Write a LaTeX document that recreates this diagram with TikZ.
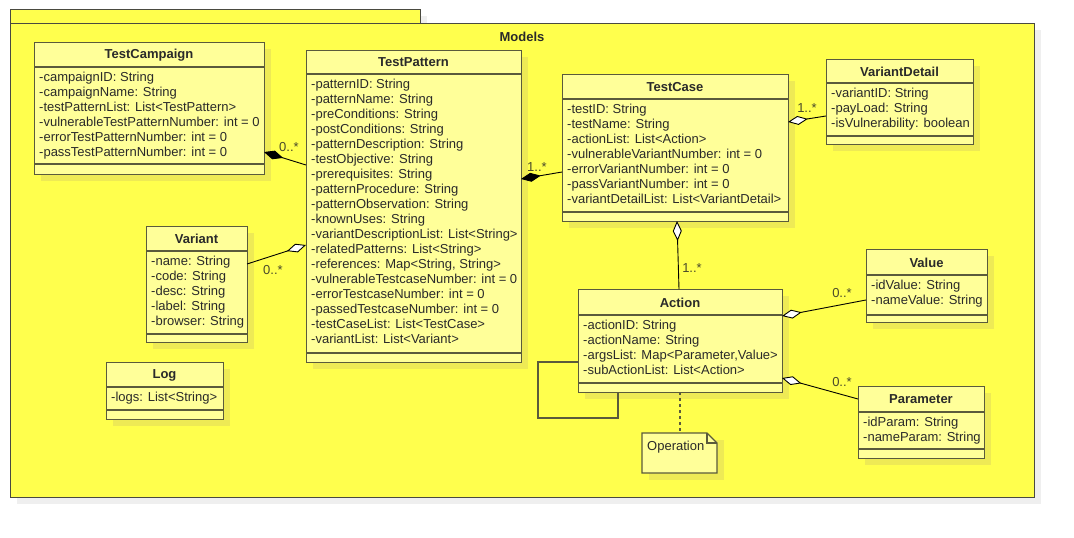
\documentclass[tikz,border=0pt]{standalone}
\usepackage{fontspec}
\setmainfont{Liberation Sans}
\usetikzlibrary{arrows.meta}
\definecolor{pkgfill}{HTML}{FFFF4D}
\definecolor{clsfill}{HTML}{FFFF99}
\definecolor{clsshadow}{HTML}{EEEA55}
\definecolor{pkgshadow}{HTML}{EFEFEF}
\definecolor{bordercol}{HTML}{5A5A3C}
\definecolor{pkgborder}{HTML}{4A4A40}
\definecolor{txt}{HTML}{2A2A2A}
\definecolor{lbl}{HTML}{4A4A2A}
\tikzset{
  clsbox/.style={draw=bordercol, fill=clsfill, line width=1.2pt, inner sep=0pt},
  clsline/.style={draw=bordercol, line width=1.2pt},
  clstitle/.style={font=\fontsize{13}{15}\selectfont\bfseries, text=txt, inner sep=0pt},
  attr/.style={anchor=west, inner sep=0pt, text height=9.5pt, text depth=3pt, font=\fontsize{13}{15}\selectfont, text=txt},
  mult/.style={inner sep=0pt, font=\fontsize{13}{15}\selectfont, text=lbl},
  assoc/.style={draw=black, line width=0.9pt},
  odiam/.style={assoc, {Diamond[length=20pt,width=9pt,fill=white,line width=0.9pt]}-},
  fdiam/.style={assoc, {Diamond[length=20pt,width=9pt,fill=black,line width=0.9pt]}-},
}
\newcommand{\umlcls}[9]{%
  \fill[clsshadow] (#2+7,#3+7) rectangle (#4+7,#7+7);
  \node[clsbox, anchor=north west, minimum width=#4-#2, minimum height=#7-#3] (#1) at (#2,#3) {};
  \draw[clsline] (#2,#5) -- (#4,#5);
  \draw[clsline] (#2,#6) -- (#4,#6);
  \node[clstitle] (#1-t) at ({(#2+#4)/2},{(#3+#5)/2+0.5}) {#8};
  \foreach \a [count=\i] in {#9} \node[attr] (#1-a\i) at (#2+5,{#5+11.5+15*(\i-1)}) {\a};
}
\begin{document}
\begin{tikzpicture}[x=1pt,y=-1pt]
\useasboundingbox (0,0) rectangle (1074,538);
% package
\fill[pkgshadow] (17,16) rectangle (427,30);
\fill[pkgshadow] (17,30) rectangle (1041,504);
\node[draw=pkgborder, fill=pkgfill, line width=1.2pt, anchor=north west, minimum width=410, minimum height=14, inner sep=0pt] (pkgtab) at (10,9) {};
\node[draw=pkgborder, fill=pkgfill, line width=1.2pt, anchor=north west, minimum width=1024, minimum height=474, inner sep=0pt] (pkg) at (10,23) {};
\node[clstitle] (pkgname) at (522,37) {Models};

\umlcls{tcamp}{34}{42}{264}{67}{164}{174}{TestCampaign}{-campaignID: String,-campaignName: String,-testPatternList: List<TestPattern>,-vulnerableTestPatternNumber: int = 0,-errorTestPatternNumber: int = 0,-passTestPatternNumber: int = 0}

\umlcls{tpat}{306}{50}{521}{74}{353}{362}{TestPattern}{-patternID: String,-patternName: String,-preConditions: String,-postConditions: String,-patternDescription: String,-testObjective: String,-prerequisites: String,-patternProcedure: String,-patternObservation: String,-knownUses: String,-variantDescriptionList: List<String>,-relatedPatterns: List<String>,{-references: Map<String, String>},-vulnerableTestcaseNumber: int = 0,-errorTestcaseNumber: int = 0,-passedTestcaseNumber: int = 0,-testCaseList: List<TestCase>,-variantList: List<Variant>}

\umlcls{tcase}{562}{74}{788}{99}{212}{221}{TestCase}{-testID: String,-testName: String,-actionList: List<Action>,-vulnerableVariantNumber: int = 0,-errorVariantNumber: int = 0,-passVariantNumber: int = 0,-variantDetailList: List<VariantDetail>}

\umlcls{vdet}{826}{59}{973}{83}{136}{144}{VariantDetail}{-variantID: String,-payLoad: String,-isVulnerability: boolean}

\umlcls{var}{146}{226}{247}{251}{334}{342}{Variant}{-name: String,-code: String,-desc: String,-label: String,-browser: String}

\umlcls{log}{106}{362}{223}{387}{410}{419}{Log}{-logs: List<String>}

\umlcls{act}{578}{289}{782}{315}{383}{392}{Action}{-actionID: String,-actionName: String,{-argsList: Map<Parameter,Value>},-subActionList: List<Action>}

\umlcls{val}{866}{249}{987}{275}{315}{322}{Value}{-idValue: String,-nameValue: String}

\umlcls{par}{858}{386}{984}{412}{449}{458}{Parameter}{-idParam: String,-nameParam: String}

% connector end points
\coordinate (c1a) at (264,152); \coordinate (c1b) at (306,165);
\coordinate (c2a) at (306,245); \coordinate (c2b) at (247,264);
\coordinate (c3a) at (521,179); \coordinate (c3b) at (562,172);
\coordinate (c4a) at (788,122); \coordinate (c4b) at (826,116);
\coordinate (c5a) at (677,221); \coordinate (c5b) at (679,289);
\coordinate (c6a) at (782,316); \coordinate (c6b) at (866,300);
\coordinate (c7a) at (782,378); \coordinate (c7b) at (858,399);

\draw[fdiam] (c1a) -- (c1b);
\draw[odiam] (c2a) -- (c2b);
\draw[fdiam] (c3a) -- (c3b);
\draw[odiam] (c4a) -- (c4b);
\draw[odiam] (c5a) -- (c5b);
\draw[odiam] (c6a) -- (c6b);
\draw[odiam] (c7a) -- (c7b);

\node[mult] (m1) at (289,147) {0..*};
\node[mult] (m2) at (273,270) {0..*};
\node[mult] (m3) at (537,167) {1..*};
\node[mult] (m4) at (807,108) {1..*};
\node[mult] (m5) at (692,268) {1..*};
\node[mult] (m6) at (842,293) {0..*};
\node[mult] (m7) at (842,382) {0..*};

% self loop on Action
\coordinate (l1) at (578,362); \coordinate (l2) at (618,392);
\draw[clsline, line width=1.1pt] (l1) -- (538,362) -- (538,418) -- (618,418) -- (l2);

% note
\coordinate (n0) at (680,392);
\fill[clsshadow] (649,440) -- (724,440) -- (724,480) -- (649,480) -- cycle;
\draw[clsline, fill=clsfill, line width=1.1pt] (642,433) -- (707,433) -- (717,443) -- (717,473) -- (642,473) -- cycle;
\draw[clsline, line width=1.1pt] (707,433) -- (707,443) -- (717,443);
\node[mult, text=txt, anchor=west] (note) at (647,447) {Operation};
\draw[clsline, line width=1.1pt, dash pattern=on 3pt off 3pt] (n0) -- (680,433);
\end{tikzpicture}
\end{document}
